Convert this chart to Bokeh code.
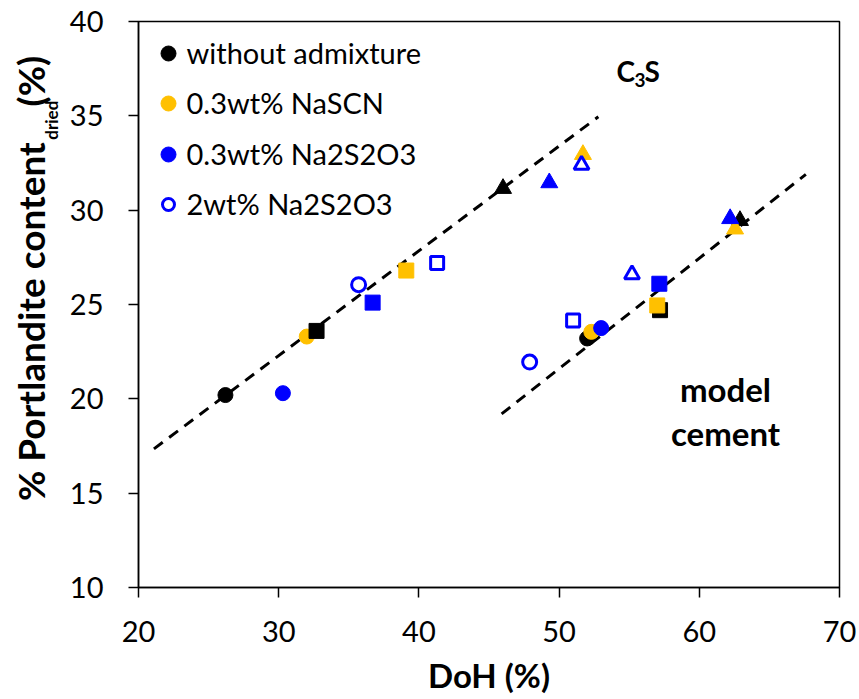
import math
from bokeh.plotting import figure
from bokeh.layouts import row
from bokeh.models import Range1d, ColumnDataSource, FixedTicker
from bokeh.core.properties import value
from bokeh.embed import file_html
from bokeh.resources import INLINE

# ---------------- data ----------------
series_names = ["without admixture", "0.3wt% NaSCN", "0.3wt% Na2S2O3", "2wt% Na2S2O3"]
# first three points: C3S, last three: model cement
marker_types = ["circle", "square", "triangle", "circle", "square", "triangle"]

doh_without = [26.2, 32.7, 46.0, 52.0, 57.2, 62.9]
ch_without = [20.2, 23.6, 31.15, 23.2, 24.7, 29.45]

doh_nascn = [32.0, 39.1, 51.7, 52.3, 57.0, 62.55]
ch_nascn = [23.3, 26.8, 32.95, 23.55, 24.95, 29.0]

doh_na2s2o3_03 = [30.3, 36.7, 49.3, 53.0, 57.15, 62.2]
ch_na2s2o3_03 = [20.3, 25.1, 31.45, 23.75, 26.1, 29.55]

doh_na2s2o3_2 = [35.7, 41.3, 51.6, 47.9, 51.0, 55.2]
ch_na2s2o3_2 = [26.05, 27.2, 32.4, 21.95, 24.15, 26.6]

c3s_fit_doh = [21.1, 52.8]
c3s_fit_ch = [17.35, 34.95]
cement_fit_doh = [45.9, 67.6]
cement_fit_ch = [19.2, 31.9]

x_ticks = [20, 30, 40, 50, 60, 70]
y_ticks = [10, 15, 20, 25, 30, 35, 40]

y_title_main = "% Portlandite content"
y_title_sub = "dried"
y_title_end = "(%)"
x_title = "DoH (%)"

# ---------------- styling ----------------
FONT = "Lato"
BLACK = "#000000"
ORANGE = "#FFC000"
BLUE = "#0000FF"

series = [
    (doh_without, ch_without, BLACK, BLACK, True),
    (doh_nascn, ch_nascn, ORANGE, ORANGE, True),
    (doh_na2s2o3_03, ch_na2s2o3_03, BLUE, BLUE, True),
    (doh_na2s2o3_2, ch_na2s2o3_2, "white", BLUE, False),
]

W, H = 859, 699
LEFT_W = 66
X0, X1, Y0, Y1 = 20, 70, 10, 40
FL, FR, FT, FB = 138, 839, 21, 587   # frame edges in page pixels


def dx(px):
    return X0 + (px - FL) / (FR - FL) * (X1 - X0)


def dy(py):
    return Y1 - (py - FT) / (FB - FT) * (Y1 - Y0)


def txt(fig, x, y, s, size, bold=False, align="left", angle=0.0):
    fig.text(x=[x], y=[y], text=[s], angle=angle, text_font=value(FONT),
             text_font_size=value(size), text_font_style="bold" if bold else "normal",
             text_color="black", text_align=align, text_baseline="middle")


# ---------- left strip carrying the rotated y-axis title ----------
lf = figure(width=LEFT_W, height=H, x_range=Range1d(0, LEFT_W), y_range=Range1d(H, 0),
            output_backend="svg", toolbar_location=None,
            x_axis_location=None, y_axis_location=None, min_border=0)
lf.outline_line_color = None
lf.xgrid.visible = False
lf.ygrid.visible = False
txt(lf, 30, 149, y_title_main, "37px", bold=True, align="right", angle=math.pi / 2)
txt(lf, 51, 146, y_title_sub, "17px", bold=True, align="left", angle=math.pi / 2)
txt(lf, 30, 105, y_title_end, "37px", bold=True, align="left", angle=math.pi / 2)

# ---------- main plot ----------
p = figure(width=W - LEFT_W, height=H, x_range=Range1d(X0, X1), y_range=Range1d(Y0, Y1),
           output_backend="svg", toolbar_location=None,
           min_border_left=FL - LEFT_W, min_border_right=W - FR,
           min_border_top=FT, min_border_bottom=H - FB)
p.background_fill_color = "white"
p.border_fill_color = "white"
p.xgrid.visible = False
p.ygrid.visible = False
p.outline_line_color = "black"
p.outline_line_width = 1.5

for ax in (p.xaxis[0], p.yaxis[0]):
    ax.axis_line_width = 1.5
    ax.major_tick_line_width = 1.5
    ax.major_tick_out = 10
    ax.major_tick_in = 0
    ax.minor_tick_line_color = None
    ax.major_label_text_font = FONT
    ax.major_label_text_font_size = "29px"
    ax.major_label_text_color = "black"
p.xaxis.ticker = FixedTicker(ticks=x_ticks)
p.yaxis.ticker = FixedTicker(ticks=y_ticks)
p.xaxis.major_label_standoff = 23
p.yaxis.major_label_standoff = 25
p.xaxis.axis_label = x_title
p.xaxis.axis_label_text_font = FONT
p.xaxis.axis_label_text_font_size = "33px"
p.xaxis.axis_label_text_font_style = "bold"
p.xaxis.axis_label_text_color = "black"
p.xaxis.axis_label_standoff = 10

# fit lines
p.line(c3s_fit_doh, c3s_fit_ch, line_color="black", line_width=3, line_dash="11 8")
p.line(cement_fit_doh, cement_fit_ch, line_color="black", line_width=3, line_dash="11 8")

sizes = {"circle": 15, "square": 15, "triangle": 17}
open_sizes = {"circle": 14, "square": 13, "triangle": 15}
for mk in ["circle", "square", "triangle"]:
    for xs, ys, fill, line, filled in series:
        sx = [x for x, m in zip(xs, marker_types) if m == mk]
        sy = [y for y, m in zip(ys, marker_types) if m == mk]
        src = ColumnDataSource(dict(x=sx, y=sy))
        if filled:
            p.scatter("x", "y", source=src, marker=mk, size=sizes[mk],
                      fill_color=fill, line_color=line, line_width=1)
        else:
            p.scatter("x", "y", source=src, marker=mk, size=open_sizes[mk],
                      fill_color="white", line_color=line, line_width=3)

# legend (drawn manually, no box)
row_py = [53, 103, 154, 204]
for i, (name, (xs, ys, fill, line, filled)) in enumerate(zip(series_names, series)):
    if filled:
        p.scatter([dx(168)], [dy(row_py[i])], marker="circle", size=15,
                  fill_color=fill, line_color=line, line_width=1)
    else:
        p.scatter([dx(168)], [dy(row_py[i])], marker="circle", size=12,
                  fill_color="white", line_color=line, line_width=3)
    txt(p, dx(186), dy(row_py[i] - 1), name, "29px")

# annotations
txt(p, dx(616), dy(70), "C", "28px", bold=True)
txt(p, dx(634), dy(79), "3", "19px", bold=True)
txt(p, dx(644), dy(70), "S", "28px", bold=True)
txt(p, dx(725), dy(388), "model", "33px", bold=True, align="center")
txt(p, dx(725), dy(432), "cement", "33px", bold=True, align="center")

layout = row(lf, p, spacing=0)
open("out.html", "w").write(file_html(layout, INLINE))
